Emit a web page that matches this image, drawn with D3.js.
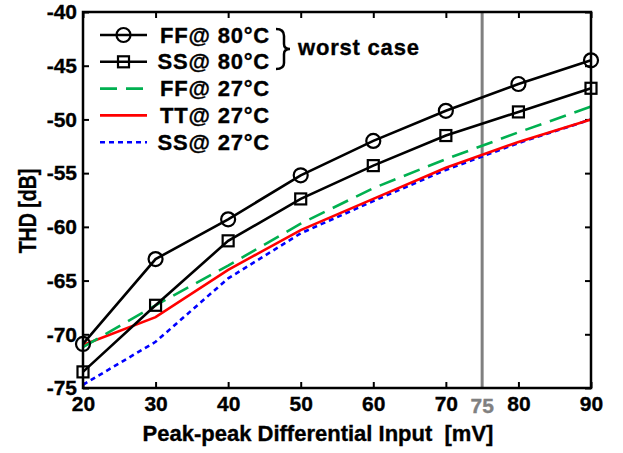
<!DOCTYPE html>
<html>
<head>
<meta charset="utf-8">
<script src="https://cdn.jsdelivr.net/npm/d3@7"></script>
<style>
  body { margin: 0; background: #fff; }
  svg text { font-family: "Liberation Sans", Arial, sans-serif; font-weight: bold; stroke: currentColor; stroke-width: 0.35px; }
</style>
</head>
<body>
<svg id="chart" width="623" height="453"></svg>
<script>
// input amplitude (mV)
var inputs = [20, 30, 40, 50, 60, 70, 80, 90];

// THD values in dB
var ff80 = [-70.9, -63.0, -59.3, -55.2, -52.0, -49.2, -46.7, -44.5];
var ss80 = [-73.5, -67.3, -61.3, -57.4, -54.3, -51.5, -49.3, -47.1];
var ff27 = [-71.2, -67.3, -63.6, -59.7, -56.4, -53.7, -51.2, -48.8];
var tt27 = [-71.0, -68.4, -64.0, -60.3, -57.4, -54.5, -52.1, -50.0];
var ss27 = [-74.7, -70.7, -64.8, -60.6, -57.6, -54.7, -52.2, -50.0];

var xTicks = [20, 30, 40, 50, 60, 70, 80, 90];
var yTicks = [-75, -70, -65, -60, -55, -50, -45, -40];
var markerX = 75;

var legendNames = ["FF@ 80°C", "SS@ 80°C", "FF@ 27°C", "TT@ 27°C", "SS@ 27°C"];

var series = [
    { name: legendNames[0], values: ff80, color: "#000", dash: null, marker: "circle" },
    { name: legendNames[1], values: ss80, color: "#000", dash: null, marker: "square" },
    { name: legendNames[2], values: ff27, color: "#00b050", dash: "17,9", marker: null },
    { name: legendNames[3], values: tt27, color: "#ff0000", dash: null, marker: null },
    { name: legendNames[4], values: ss27, color: "#0000ff", dash: "5,4", marker: null }
];

var svg = d3.select("#chart");

var plotLeft = 83, plotRight = 591, plotTop = 12, plotBottom = 388;

var xScale = d3.scaleLinear().domain([20, 90]).range([plotLeft, plotRight]);
var yScale = d3.scaleLinear().domain([-75, -40]).range([plotBottom, plotTop]);

// plain hyphen for the minus sign, like the original
var plain = d => String(d);

// inner ticks on all four sides, matlab style
svg.append("g")
    .attr("transform", `translate(0, ${plotBottom})`)
    .call(d3.axisBottom(xScale).tickValues(xTicks).tickSize(-6).tickSizeOuter(0).tickPadding(8).tickFormat(plain))
    .call(g => g.select(".domain").remove());
svg.append("g")
    .attr("transform", `translate(0, ${plotTop})`)
    .call(d3.axisTop(xScale).tickValues(xTicks).tickSize(-6).tickSizeOuter(0).tickFormat(""))
    .call(g => g.select(".domain").remove());
svg.append("g")
    .attr("transform", `translate(${plotLeft}, 0)`)
    .call(d3.axisLeft(yScale).tickValues(yTicks).tickSize(-6).tickSizeOuter(0).tickPadding(6).tickFormat(plain))
    .call(g => g.select(".domain").remove());
svg.append("g")
    .attr("transform", `translate(${plotRight}, 0)`)
    .call(d3.axisRight(yScale).tickValues(yTicks).tickSize(-6).tickSizeOuter(0).tickFormat(""))
    .call(g => g.select(".domain").remove());

svg.selectAll(".tick line").attr("stroke", "#000").attr("stroke-width", 2);
svg.selectAll(".tick text").attr("fill", "#000").style("color", "#000").style("font-size", "21px");

// 75 mV marker line
svg.append("line")
    .attr("x1", xScale(markerX)).attr("x2", xScale(markerX))
    .attr("y1", yScale(-40)).attr("y2", yScale(-75))
    .attr("stroke", "#808080")
    .attr("stroke-width", 3);
svg.append("text")
    .attr("x", xScale(markerX))
    .attr("y", plotBottom + 25)
    .attr("text-anchor", "middle")
    .attr("fill", "#808080")
    .style("color", "#808080")
    .style("font-size", "21px")
    .text(markerX);

var line = d3.line()
    .x((d, i) => xScale(inputs[i]))
    .y(d => yScale(d));

// draw in reverse so black curves are on top
series.slice().reverse().forEach(function (s) {
    svg.append("path")
        .datum(s.values)
        .attr("fill", "none")
        .attr("stroke", s.color)
        .attr("stroke-width", 2.6)
        .attr("stroke-dasharray", s.dash)
        .attr("d", line);
});

function drawMarker(g, type, x, y) {
    if (type === "circle") {
        g.append("circle").attr("cx", x).attr("cy", y).attr("r", 7)
            .attr("fill", "none").attr("stroke", "#000").attr("stroke-width", 2.2);
    } else if (type === "square") {
        g.append("rect").attr("x", x - 5.5).attr("y", y - 5.5).attr("width", 11).attr("height", 11)
            .attr("fill", "none").attr("stroke", "#000").attr("stroke-width", 2.2);
    }
}

var markers = svg.append("g");
series.forEach(function (s) {
    if (!s.marker) return;
    s.values.forEach(function (v, i) {
        drawMarker(markers, s.marker, xScale(inputs[i]), yScale(v));
    });
});

// frame
svg.append("rect")
    .attr("x", plotLeft).attr("y", plotTop)
    .attr("width", plotRight - plotLeft).attr("height", plotBottom - plotTop)
    .attr("fill", "none")
    .attr("stroke", "#000")
    .attr("stroke-width", 2.5);

// legend
var legend = svg.append("g");
series.forEach(function (s, i) {
    var y = 35 + i * 26.8;
    legend.append("line")
        .attr("x1", 100).attr("x2", 147)
        .attr("y1", y).attr("y2", y)
        .attr("stroke", s.color)
        .attr("stroke-width", 2.6)
        .attr("stroke-dasharray", s.dash);
    if (s.marker) drawMarker(legend, s.marker, 123.5, y);
    legend.append("text")
        .attr("x", 270)
        .attr("y", y + 7.5)
        .attr("text-anchor", "end")
        .style("font-size", "22px")
        .style("letter-spacing", "0.8px")
        .text(s.name);
});

// brace for worst case
legend.append("path")
    .attr("d", "M276,29 Q284,29 284,36 L284,44 Q284,49 290,49 Q284,49 284,54 L284,63 Q284,69 276,69")
    .attr("fill", "none")
    .attr("stroke", "#000")
    .attr("stroke-width", 2.5);
legend.append("text")
    .attr("x", 298)
    .attr("y", 55)
    .style("font-size", "22px")
    .style("letter-spacing", "0.8px")
    .text("worst case");

// axis labels
svg.append("text")
    .attr("x", 318)
    .attr("y", 441)
    .attr("text-anchor", "middle")
    .style("font-size", "22px")
    .attr("xml:space", "preserve")
    .text("Peak-peak Differential Input  [mV]");

svg.append("text")
    .attr("transform", "translate(36, 211) rotate(-90) scale(0.85, 1)")
    .attr("text-anchor", "middle")
    .style("font-size", "23px")
    .text("THD [dB]");
</script>
</body>
</html>
